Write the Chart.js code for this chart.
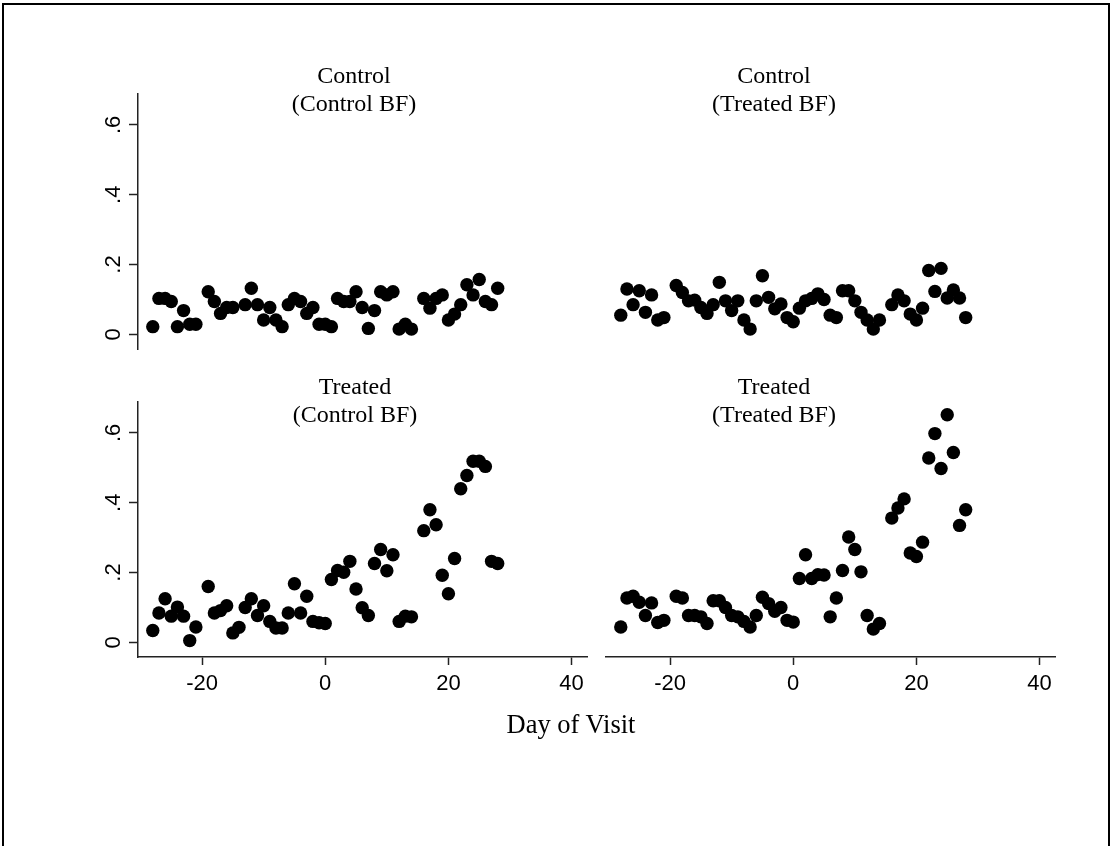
<!DOCTYPE html>
<html lang="en">
<head>
    <meta charset="UTF-8">
    <title>Day of Visit by group</title>
    <script src="https://cdn.jsdelivr.net/npm/chart.js"></script>
    <style>
        body { margin: 0; background: #fff; }
        #wrap { position: relative; width: 1112px; height: 846px; overflow: hidden; background: #fff; }
        #wrap canvas { position: absolute; left: 0; top: 0; }
        .frame { position: absolute; left: 2px; top: 3px; width: 1104px; height: 900px; border: 2px solid #000; }
        .ttl { position: absolute; width: 300px; text-align: center; font: 24px/28px "Liberation Serif", "Times New Roman", serif; color: #000; }
        .xttl { position: absolute; width: 300px; text-align: center; font: 26.5px/26.5px "Liberation Serif", "Times New Roman", serif; color: #000; }
    </style>
</head>
<body>
<div id="wrap">
    <div class="frame"></div>
    <canvas id="tl" width="1112" height="846"></canvas>
    <canvas id="tr" width="1112" height="846"></canvas>
    <canvas id="bl" width="1112" height="846"></canvas>
    <canvas id="br" width="1112" height="846"></canvas>
    <div class="ttl" style="left:204px;top:61px">Control<br>(Control BF)</div>
    <div class="ttl" style="left:624px;top:61px">Control<br>(Treated BF)</div>
    <div class="ttl" style="left:205px;top:372px">Treated<br>(Control BF)</div>
    <div class="ttl" style="left:624px;top:372px">Treated<br>(Treated BF)</div>
    <div class="xttl" style="left:421px;top:711px">Day of Visit</div>
</div>
<script>
    // day of visit (same days in every panel)
    const days = [-28, -27, -26, -25, -24, -23, -22, -21,
        -19, -18, -17, -16, -15, -14, -13, -12, -11, -10, -9, -8, -7, -6, -5, -4, -3, -2, -1,
        0, 1, 2, 3, 4, 5, 6, 7, 8, 9, 10, 11, 12, 13, 14,
        16, 17, 18, 19, 20, 21, 22, 23, 24, 25, 26, 27, 28];

    const controlControlBF = [0.022, 0.103, 0.103, 0.094, 0.022, 0.068, 0.029, 0.029,
        0.122, 0.094, 0.060, 0.077, 0.077, null, 0.085, 0.132, 0.085, 0.041, 0.077, 0.041, 0.022, 0.085, 0.103, 0.094, 0.060, 0.077, 0.029,
        0.029, 0.022, 0.103, 0.094, 0.094, 0.122, 0.077, 0.017, 0.068, 0.122, 0.113, 0.122, 0.015, 0.029, 0.015,
        0.103, 0.075, 0.103, 0.113, 0.041, 0.058, 0.085, 0.142, 0.113, 0.157, 0.094, 0.085, 0.132];

    const controlTreatedBF = [0.055, 0.130, 0.085, 0.125, 0.063, 0.113, 0.041, 0.048,
        0.140, 0.120, 0.096, 0.098, 0.077, 0.060, 0.085, 0.149, 0.096, 0.068, 0.096, 0.041, 0.015, 0.096, 0.168, 0.106, 0.073, 0.087, 0.048,
        0.036, 0.075, 0.096, 0.103, 0.116, 0.100, 0.055, 0.048, 0.125, 0.125, 0.096, 0.063, 0.041, 0.015, 0.041,
        0.085, 0.113, 0.096, 0.058, 0.041, 0.075, 0.183, 0.123, 0.189, 0.104, 0.127, 0.104, 0.048];

    const treatedControlBF = [0.034, 0.084, 0.125, 0.075, 0.101, 0.075, 0.005, 0.044,
        0.160, 0.084, 0.091, 0.105, 0.027, 0.043, 0.100, 0.125, 0.077, 0.105, 0.060, 0.041, 0.041, 0.084, 0.168, 0.084, 0.132, 0.060, 0.056,
        0.054, 0.180, 0.206, 0.201, 0.232, 0.153, 0.099, 0.077, 0.226, 0.266, 0.205, 0.251, 0.060, 0.075, 0.073,
        0.320, 0.380, 0.337, 0.192, 0.139, 0.240, 0.440, 0.478, 0.519, 0.519, 0.504, 0.232, 0.226];

    const treatedTreatedBF = [0.044, 0.127, 0.132, 0.115, 0.077, 0.113, 0.057, 0.063,
        0.132, 0.127, 0.077, 0.077, 0.073, 0.054, 0.119, 0.119, 0.100, 0.077, 0.073, 0.060, 0.044, 0.077, 0.129, 0.111, 0.089, 0.100, 0.063,
        0.058, 0.183, 0.251, 0.183, 0.194, 0.193, 0.073, 0.127, 0.206, 0.302, 0.266, 0.202, 0.077, 0.038, 0.054,
        0.356, 0.385, 0.411, 0.256, 0.246, 0.287, 0.528, 0.598, 0.498, 0.652, 0.544, 0.335, 0.380];

    const xTicks = [-20, 0, 20, 40];
    const xTickLabels = ['-20', '0', '20', '40'];
    const yTicks = [0, 0.2, 0.4, 0.6];
    const yTickLabels = ['0', '.2', '.4', '.6'];

    const tickFont = { family: '"Liberation Sans", Arial, sans-serif', size: 22 };
    const axisColor = '#222';

    function makePanel(id, values, showX, showY, pad) {
        const pts = [];
        days.forEach((d, i) => {
            if (values[i] !== null) pts.push({ x: d, y: values[i] });
        });
        return new Chart(document.getElementById(id), {
            type: 'scatter',
            data: {
                datasets: [{
                    data: pts,
                    backgroundColor: '#000',
                    borderColor: '#000',
                    borderWidth: 0,
                    pointRadius: 6.7
                }]
            },
            options: {
                responsive: false,
                animation: false,
                events: [],
                layout: { padding: pad },
                plugins: { legend: { display: false }, tooltip: { enabled: false } },
                scales: {
                    x: {
                        type: 'linear',
                        min: -30.4,
                        max: 42.5,
                        display: showX,
                        afterBuildTicks: s => { s.ticks = xTicks.map(v => ({ value: v })); },
                        afterFit: s => { s.height = showX ? 50 : 0; },
                        ticks: {
                            callback: (v, i) => xTickLabels[i],
                            font: tickFont,
                            color: '#000',
                            padding: 6,
                            maxRotation: 0,
                            autoSkip: false
                        },
                        grid: { drawOnChartArea: false, drawTicks: true, tickLength: 8, tickColor: axisColor, tickWidth: 1.5 },
                        border: { display: true, color: axisColor, width: 1.5 }
                    },
                    y: {
                        min: -0.042,
                        max: 0.69,
                        display: showY,
                        afterBuildTicks: s => { s.ticks = yTicks.map(v => ({ value: v })); },
                        afterFit: s => { s.width = showY ? 40 : 0; },
                        ticks: {
                            callback: (v, i) => yTickLabels[i],
                            font: tickFont,
                            color: '#000',
                            padding: 6,
                            minRotation: 90,
                            maxRotation: 90,
                            crossAlign: 'center',
                            autoSkip: false
                        },
                        grid: { drawOnChartArea: false, drawTicks: true, tickLength: 9, tickColor: axisColor, tickWidth: 1.5 },
                        border: { display: true, color: axisColor, width: 1.5 }
                    }
                }
            }
        });
    }

    // chart areas: left panels x 138-587, right 606-1055; top y 93.5-349, bottom 401.5-657
    makePanel('tl', controlControlBF, false, true, { left: 98, right: 525, top: 93.5, bottom: 497 });
    makePanel('tr', controlTreatedBF, false, false, { left: 606, right: 57, top: 93.5, bottom: 497 });
    makePanel('bl', treatedControlBF, true, true, { left: 98, right: 525, top: 401.5, bottom: 139 });
    makePanel('br', treatedTreatedBF, true, false, { left: 606, right: 57, top: 401.5, bottom: 139 });
</script>
</body>
</html>
